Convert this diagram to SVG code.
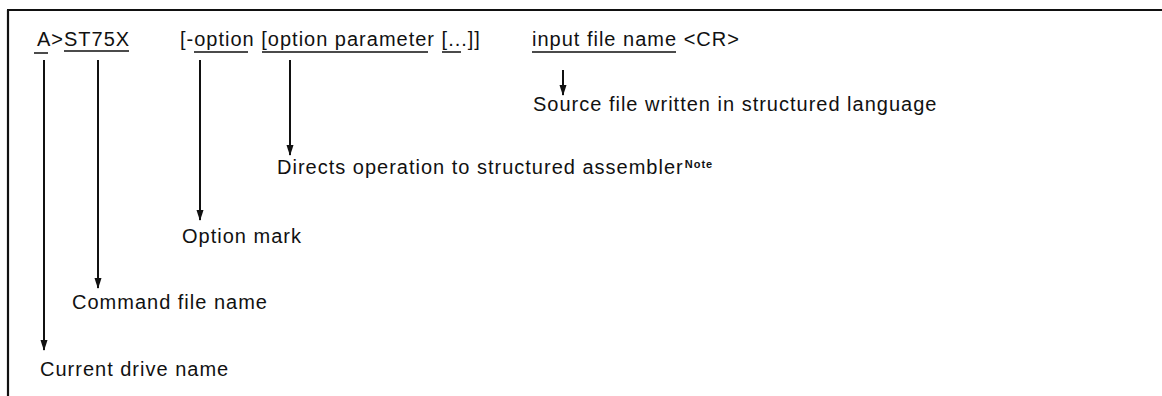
<svg xmlns="http://www.w3.org/2000/svg" width="1162" height="396" viewBox="0 0 1162 396">
<style>
.t{font-family:"Liberation Sans",Arial,sans-serif;font-size:20px;letter-spacing:1px;fill:#111}
.n{font-family:"Liberation Sans",Arial,sans-serif;font-size:11px;font-weight:bold;fill:#111}
.u{stroke:#111;stroke-width:1.6;fill:none}
.a{stroke:#111;stroke-width:2;fill:none;marker-end:url(#ah)}
.f{stroke:#111;stroke-width:2.2;fill:none}
</style>
<defs>
<marker id="ah" markerUnits="userSpaceOnUse" markerWidth="8" markerHeight="12" refX="3.5" refY="10" orient="auto-start-reverse" viewBox="0 0 7 12">
<path d="M0,0 L7,0 L3.5,10 Z" fill="#111" transform="rotate(-90 3.5 5) translate(0 0)"/>
</marker>
</defs>
<rect width="1162" height="396" fill="#fff"/>
<g id="frame">
<path class="f" d="M7,10 H1162 M8,10 V396"/>
</g>
<g id="command-line">
<text class="t" x="37" y="46">A&gt;ST75X</text>
<text class="t" x="180" y="46">[-option [option parameter [...]]</text>
<text class="t" x="532" y="46">input file name &lt;CR&gt;</text>
<path class="u" d="M34,53 H48 M64,51 H129 M194,52 H248 M262,52 H428 M442,52 H461 M532,52 H676"/>
</g>
<g id="connectors">
<line x1="44" y1="60" x2="44" y2="350" stroke="#111" stroke-width="2"/>
<path d="M40.5,340 L47.5,340 L44,351 Z" fill="#111"/>
<line x1="98" y1="60" x2="98" y2="288" stroke="#111" stroke-width="2"/>
<path d="M94.5,278 L101.5,278 L98,289 Z" fill="#111"/>
<line x1="200" y1="60" x2="200" y2="220" stroke="#111" stroke-width="2"/>
<path d="M196.5,210 L203.5,210 L200,221 Z" fill="#111"/>
<line x1="290" y1="60" x2="290" y2="155" stroke="#111" stroke-width="2"/>
<path d="M286.5,145 L293.5,145 L290,156 Z" fill="#111"/>
<line x1="563" y1="70" x2="563" y2="95" stroke="#111" stroke-width="2"/>
<path d="M559.5,85 L566.5,85 L563,96 Z" fill="#111"/>
</g>
<g id="source-label">
<text class="t" x="533" y="111">Source file written in structured language</text>
</g>
<g id="directs-label">
<text class="t" x="277" y="174">Directs operation to structured assembler<tspan class="n" dy="-6" dx="1">Note</tspan></text>
</g>
<g id="option-mark-label">
<text class="t" x="182" y="243">Option mark</text>
</g>
<g id="command-label">
<text class="t" x="72" y="309">Command file name</text>
</g>
<g id="drive-label">
<text class="t" x="40" y="376">Current drive name</text>
</g>
</svg>
